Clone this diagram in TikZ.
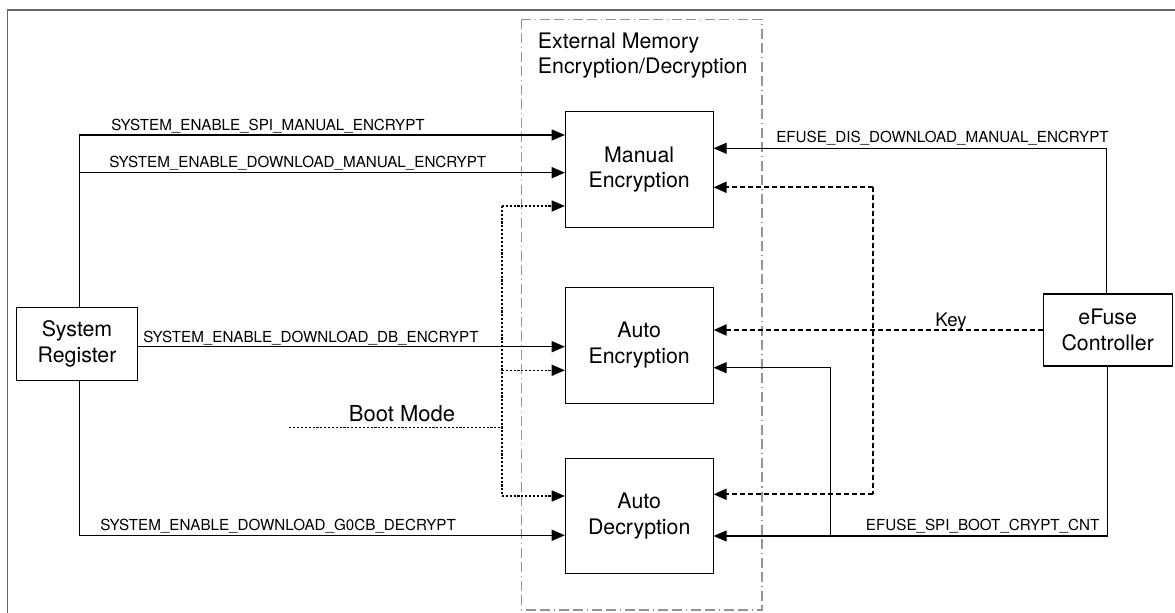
\documentclass[tikz,border=0pt]{standalone}
\usepackage{fontspec}
\setmainfont{TeX Gyre Heros}
\usepackage{tikz}
\usetikzlibrary{arrows.meta}
\tikzset{
  block/.style    = {draw, line width=0.8pt, minimum width=110.8pt, minimum height=86.8pt,
                     align=center, inner sep=0pt, font=\fontsize{16}{19.3}\selectfont},
  wire/.style     = {line width=0.8pt},
  sig/.style      = {-{Triangle[length=9.8pt,width=8.3pt]}, line width=0.8pt},
  bootline/.style = {line width=0.9pt, dash pattern=on 1.6pt off 1.3pt},
  bootsig/.style  = {bootline, -{Triangle[length=9.8pt,width=8.3pt]}},
  keyline/.style  = {line width=1.5pt, dash pattern=on 3.6pt off 2.4pt},
  keysig/.style   = {keyline, -{Triangle[length=9.8pt,width=8.3pt]}},
  siglab/.style   = {anchor=base west, inner sep=0pt, font=\fontsize{11.4}{13}\selectfont},
  memframe/.style = {draw=black!42, line width=1.1pt,
                     dash pattern=on 7.5pt off 3pt on 7.5pt off 3pt on 0.8pt off 3pt},
}

\begin{document}
\begin{tikzpicture}[x=0.75pt, y=-0.75pt]
  \useasboundingbox (0,0) rectangle (1175,613);
  \draw[black!60, line width=1.1pt] (7.3,613) |- (1175,10);

  \draw[memframe] (521.3,19.3) rectangle (762,610);
  \node[anchor=west, align=left, inner sep=0pt, font=\fontsize{16}{19.2}\selectfont]
    (memtitle) at (537.7,55.5) {External Memory\\Encryption/Decryption};

  \node[block] (me) at (639.2,169.5) {Manual\\Encryption};
  \node[block] (ae) at (639.2,345.3) {Auto\\Encryption};
  \node[block] (ad) at (639.2,516)   {Auto\\Decryption};
  \node[block, minimum width=90.5pt, minimum height=54.2pt] (sr) at (77,343.9) {System\\Register};
  \node[block, minimum width=97pt, minimum height=54pt] (ef) at (1107.7,330) {eFuse\\Controller};

  \coordinate (srspi) at (79.3,135);
  \coordinate (srdl)  at (79.3,172.7);
  \coordinate (srdb)  at (137.3,346.7);
  \coordinate (srgo)  at (79.3,535.3);
  \draw[wire] (sr.north -| srspi) -- (srspi);
  \draw[wire] (sr.south -| srgo) -- (srgo);
  \draw[sig] (srspi) -- (srspi -| me.west);
  \draw[sig] (srdl) -- (srdl -| me.west);
  \draw[sig] (srdb) -- (srdb -| ae.west);
  \draw[sig] (srgo) -- (srgo -| ad.west);
  \node[siglab] (lspi) at (111,131)  {SYSTEM\_ENABLE\_SPI\_MANUAL\_ENCRYPT};
  \node[siglab] (ldl)  at (109,168)  {SYSTEM\_ENABLE\_DOWNLOAD\_MANUAL\_ENCRYPT};
  \node[siglab] (ldb)  at (143,342.5) {SYSTEM\_ENABLE\_DOWNLOAD\_DB\_ENCRYPT};
  \node[siglab] (lgo)  at (100,530)  {SYSTEM\_ENABLE\_DOWNLOAD\_G0CB\_DECRYPT};

  \coordinate (bmstart) at (289.3,427.5);
  \coordinate (bmbus)   at (502,427.5);
  \coordinate (bmtop)   at (502,206);
  \coordinate (bmmid)   at (502,370.3);
  \coordinate (bmbot)   at (502,496);
  \draw[bootline] (bmstart) -- (bmbus);
  \draw[bootline] (bmtop) -- (bmbot);
  \draw[bootsig] (bmtop) -- (bmtop -| me.west);
  \draw[bootsig] (bmmid) -- (bmmid -| ae.west);
  \draw[bootsig] (bmbot) -- (bmbot -| ad.west);
  \node[anchor=base east, inner sep=0pt, font=\fontsize{16.5}{19}\selectfont] (lboot) at (455.3,421) {Boot Mode};

  \coordinate (keytop) at (873,187.3);
  \coordinate (keybot) at (873,494.3);
  \draw[keysig] (ef.west) -- (ef.west -| ae.east);
  \draw[keyline] (keytop) -- (keybot);
  \draw[keysig] (keytop) -- (keytop -| me.east);
  \draw[keysig] (keybot) -- (keybot -| ad.east);
  \node[anchor=base, inner sep=0pt, font=\fontsize{14}{16}\selectfont] (lkey) at (951,326.7) {Key};

  \coordinate (efdis)   at (1106.3,148.3);
  \coordinate (efcnt)   at (1107.7,536);
  \coordinate (efbr)    at (830.3,536);
  \coordinate (efbrtop) at (830.3,367.7);
  \draw[sig] (ef.north -| efdis) -- (efdis) -- (efdis -| me.east);
  \draw[sig] (ef.south) -- (efcnt) -- (efcnt -| ad.east);
  \draw[sig] (efbr) -- (efbrtop) -- (efbrtop -| ae.east);
  \node[siglab] (ldis) at (776,143) {EFUSE\_DIS\_DOWNLOAD\_MANUAL\_ENCRYPT};
  \node[siglab] (lcnt) at (865.7,530) {EFUSE\_SPI\_BOOT\_CRYPT\_CNT};
\end{tikzpicture}
\end{document}
